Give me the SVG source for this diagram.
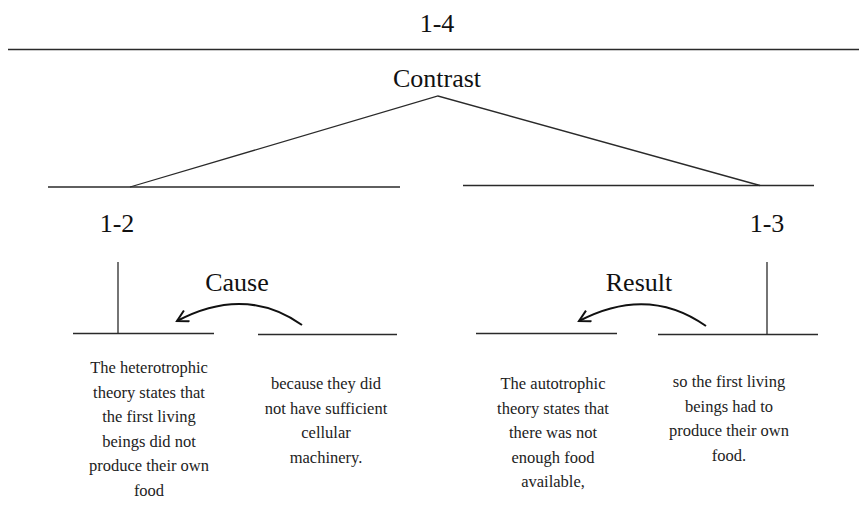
<svg xmlns="http://www.w3.org/2000/svg" width="859" height="527" viewBox="0 0 859 527">
<style>
.ln{stroke:#2a2a2a;stroke-width:1.3;fill:none}
.arc{stroke:#111;stroke-width:2;fill:none}
text{font-family:'Liberation Serif','Tinos','Times New Roman','DejaVu Serif',serif}
.lbl{font-size:26px;fill:#111;text-anchor:middle}
.txt{font-size:16.5px;fill:#222;text-anchor:middle}
</style>
<defs>
<marker id="ah" markerUnits="userSpaceOnUse" markerWidth="20" markerHeight="20" refX="12" refY="7" orient="auto">
<path d="M1,1 L12,7 L1,13" fill="none" stroke="#111" stroke-width="2"/>
</marker>
</defs>
<rect width="859" height="527" fill="#fff"/>
<g id="n14">
<text class="lbl" x="437" y="32" font-family="Liberation Serif, DejaVu Serif, serif">1-4</text>
<line class="ln" x1="8" y1="49.5" x2="859" y2="49.5"/>
</g>
<g id="contrast">
<text class="lbl" x="437" y="87" font-family="Liberation Serif, DejaVu Serif, serif">Contrast</text>
</g>
<g id="n12">
<line class="ln" x1="48" y1="187" x2="400" y2="187"/>
<text class="lbl" x="117" y="232" font-family="Liberation Serif, DejaVu Serif, serif">1-2</text>
</g>
<g id="n13">
<line class="ln" x1="463" y1="185.5" x2="814" y2="185.5"/>
<text class="lbl" x="767" y="232" font-family="Liberation Serif, DejaVu Serif, serif">1-3</text>
</g>
<g id="cause">
<text class="lbl" x="237" y="291" font-family="Liberation Serif, DejaVu Serif, serif">Cause</text>
</g>
<g id="result">
<text class="lbl" x="639" y="291" font-family="Liberation Serif, DejaVu Serif, serif">Result</text>
</g>
<g id="b1">
<line class="ln" x1="73" y1="333.5" x2="214" y2="333.5"/>
<text class="txt" x="149" font-family="Liberation Serif, DejaVu Serif, serif"><tspan x="149" y="373">The heterotrophic</tspan><tspan x="149" y="397.6">theory states that</tspan><tspan x="149" y="422.2">the first living</tspan><tspan x="149" y="446.8">beings did not</tspan><tspan x="149" y="471.4">produce their own</tspan><tspan x="149" y="496">food</tspan></text>
</g>
<g id="b2">
<line class="ln" x1="258" y1="334.5" x2="397" y2="334.5"/>
<text class="txt" x="326" font-family="Liberation Serif, DejaVu Serif, serif"><tspan x="326" y="389">because they did</tspan><tspan x="326" y="413.6">not have sufficient</tspan><tspan x="326" y="438.2">cellular</tspan><tspan x="326" y="462.8">machinery.</tspan></text>
</g>
<g id="b3">
<line class="ln" x1="476" y1="333.5" x2="617" y2="333.5"/>
<text class="txt" x="553" font-family="Liberation Serif, DejaVu Serif, serif"><tspan x="553" y="389">The autotrophic</tspan><tspan x="553" y="413.6">theory states that</tspan><tspan x="553" y="438.2">there was not</tspan><tspan x="553" y="462.8">enough food</tspan><tspan x="553" y="487.4">available,</tspan></text>
</g>
<g id="b4">
<line class="ln" x1="658" y1="334.5" x2="818" y2="334.5"/>
<text class="txt" x="729" font-family="Liberation Serif, DejaVu Serif, serif"><tspan x="729" y="387">so the first living</tspan><tspan x="729" y="411.6">beings had to</tspan><tspan x="729" y="436.2">produce their own</tspan><tspan x="729" y="460.8">food.</tspan></text>
</g>
<g id="connectors">
<polyline class="ln" points="130,187 438,96 760,185.5"/>
<line class="ln" x1="118" y1="262" x2="118" y2="333.5"/>
<line class="ln" x1="767" y1="262" x2="767" y2="334.5"/>
<path class="arc" d="M302,325 Q245,285 177,321" marker-end="url(#ah)"/>
<path class="arc" d="M706,326 Q648,285 579,321" marker-end="url(#ah)"/>
</g>
</svg>
